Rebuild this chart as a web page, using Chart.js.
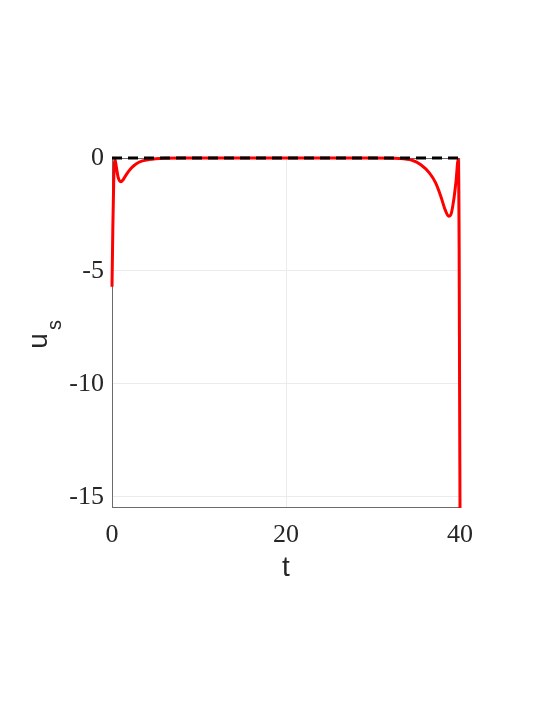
<!DOCTYPE html>
<html>
<head>
<meta charset="utf-8">
<script src="https://cdn.jsdelivr.net/npm/chart.js@4/dist/chart.umd.min.js"></script>
<style>
  html, body { margin: 0; padding: 0; background: #fff; }
  #wrap { width: 548px; height: 709px; }
</style>
</head>
<body>
<div id="wrap"><canvas id="usChart"></canvas></div>
<script>
// values
const tValues = [0, 0.1, 0.2, 0.34, 0.5, 0.7, 1.0, 1.3, 1.7, 2.2, 2.8, 3.5, 4.2, 5, 6, 8, 10, 20, 30, 33,
  34.5, 35.5, 36.5, 37.2, 37.8, 38.3, 38.7, 39.0, 39.3, 39.55, 39.8, 39.9, 39.95, 40];
const usValues = [-5.7, -3.0, -1.0, -0.05, -0.4, -0.85, -1.05, -0.95, -0.7, -0.45, -0.25, -0.13, -0.07, -0.03, -0.01, 0, 0, 0, 0, -0.02,
  -0.1, -0.3, -0.67, -1.1, -1.7, -2.3, -2.58, -2.45, -1.8, -1.0, -0.05, -4, -10, -15.5];
const refT = [0, 40];
const refValues = [0, 0];
const xTicks = [0, 20, 40];
const yTicks = [-15, -10, -5, 0];

const toPoints = (xs, ys) => xs.map((x, i) => ({ x: x, y: ys[i] }));

// box round the plot + axis titles
const axesDecor = {
  id: 'axesDecor',
  beforeDatasetsDraw(chart) {
    const { ctx, chartArea: a } = chart;
    ctx.save();
    ctx.strokeStyle = '#6b6b6b';
    ctx.lineWidth = 1;
    ctx.strokeRect(a.left + 0.5, a.top + 0.5, a.right - a.left - 1, a.bottom - a.top - 1);
    ctx.restore();
  },
  afterDraw(chart) {
    const { ctx, chartArea: a } = chart;
    ctx.save();
    ctx.fillStyle = '#262626';
    ctx.font = '28px "Liberation Sans", Arial, sans-serif';
    ctx.textAlign = 'center';
    ctx.textBaseline = 'alphabetic';
    ctx.fillText('t', (a.left + a.right) / 2, 576);

    ctx.translate(47, 341);
    ctx.rotate(-Math.PI / 2);
    ctx.fillText('u', 0, 0);
    ctx.font = '20px "Liberation Sans", Arial, sans-serif';
    ctx.fillText('s', 16, 14);
    ctx.restore();
  }
};

new Chart(document.getElementById('usChart').getContext('2d'), {
  type: 'line',
  data: {
    datasets: [{
      data: toPoints(refT, refValues),
      borderColor: '#000000',
      borderWidth: 3,
      borderDash: [10, 6],
      pointRadius: 0,
      clip: 4
    }, {
      data: toPoints(tValues, usValues),
      borderColor: '#ff0000',
      borderWidth: 3,
      cubicInterpolationMode: 'monotone',
      pointRadius: 0,
      clip: 4
    }]
  },
  options: {
    responsive: true,
    maintainAspectRatio: false,
    animation: false,
    layout: { padding: { left: 0, right: 88, top: 158, bottom: 0 } },
    plugins: { legend: { display: false }, tooltip: { enabled: false } },
    scales: {
      x: {
        type: 'linear',
        min: 0,
        max: 40,
        afterBuildTicks: (s) => { s.ticks = xTicks.map(v => ({ value: v })); },
        afterFit: (s) => { s.height = 201; },
        grid: { color: '#ebebeb', drawTicks: false },
        border: { display: false },
        ticks: {
          padding: 12,
          color: '#262626',
          maxRotation: 0,
          font: { family: '"Liberation Serif", "Times New Roman", serif', size: 26 }
        }
      },
      y: {
        min: -15.5,
        max: 0,
        afterBuildTicks: (s) => { s.ticks = yTicks.map(v => ({ value: v })); },
        afterFit: (s) => { s.width = 112; },
        grid: { color: '#ebebeb', drawTicks: false },
        border: { display: false },
        ticks: {
          padding: 8,
          color: '#262626',
          font: { family: '"Liberation Serif", "Times New Roman", serif', size: 26 }
        }
      }
    }
  },
  plugins: [axesDecor]
});
</script>
</body>
</html>
